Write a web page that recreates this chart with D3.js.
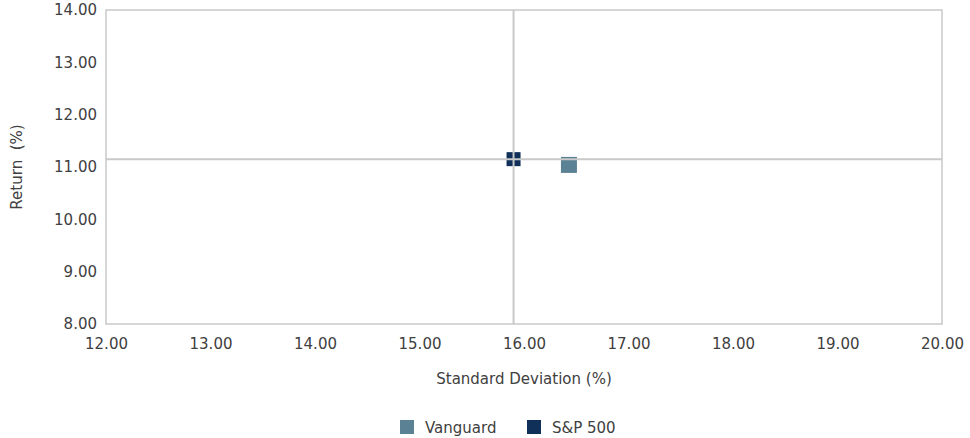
<!DOCTYPE html>
<html>
<head>
<meta charset="utf-8">
<script src="https://cdn.jsdelivr.net/npm/d3@7"></script>
<style>
  body { margin: 0; background: #fff; }
  text { font-family: "DejaVu Sans", sans-serif; fill: #404040; }
</style>
</head>
<body>
<div id="chart-area"></div>
<script>
// data
var seriesNames = ["Vanguard", "S&P 500"];
var stdDev = [16.43, 15.90];
var returns = [11.04, 11.15];
var colors = ["#5b8194", "#10305a"];
var xTicks = [12, 13, 14, 15, 16, 17, 18, 19, 20];
var yTicks = [8, 9, 10, 11, 12, 13, 14];

var margin = { left: 106, right: 28, top: 10, bottom: 114 };
var width = 970 - margin.left - margin.right;
var height = 438 - margin.top - margin.bottom;

var svg = d3.select("#chart-area").append("svg")
  .attr("width", 970)
  .attr("height", 438);

var g = svg.append("g")
  .attr("transform", "translate(" + margin.left + "," + margin.top + ")");

var x = d3.scaleLinear().domain([12, 20]).range([0, width]);
var y = d3.scaleLinear().domain([8, 14]).range([height, 0]);

// plot frame
g.append("rect")
  .attr("x", 0).attr("y", 0)
  .attr("width", width).attr("height", height)
  .attr("fill", "none")
  .attr("stroke", "#c9c9c9")
  .attr("stroke-width", 1.5);

// X Axis
var xAxisCall = d3.axisBottom(x)
  .tickValues(xTicks)
  .tickSize(0)
  .tickPadding(14)
  .tickFormat(d3.format(".2f"));
var xAxis = g.append("g")
  .attr("transform", "translate(0," + height + ")")
  .call(xAxisCall);
xAxis.select(".domain").remove();
xAxis.selectAll("text")
  .attr("font-size", "15px")
  .style("font-family", "DejaVu Sans")
  .style("fill", "#404040");

// Y Axis
var yAxisCall = d3.axisLeft(y)
  .tickValues(yTicks)
  .tickSize(0)
  .tickPadding(9)
  .tickFormat(d3.format(".2f"));
var yAxis = g.append("g").call(yAxisCall);
yAxis.select(".domain").remove();
yAxis.selectAll("text")
  .attr("font-size", "15px")
  .style("font-family", "DejaVu Sans")
  .style("fill", "#404040");

// markers
var sizes = [16, 14];
g.selectAll("rect.pt")
  .data(seriesNames)
  .enter()
  .append("rect")
  .attr("class", "pt")
  .attr("x", function(d, i) { return x(stdDev[i]) - sizes[i] / 2; })
  .attr("y", function(d, i) { return y(returns[i]) - sizes[i] / 2; })
  .attr("width", function(d, i) { return sizes[i]; })
  .attr("height", function(d, i) { return sizes[i]; })
  .attr("fill", function(d, i) { return colors[i]; });

// crosshair through the S&P 500 point
g.append("line")
  .attr("x1", x(stdDev[1])).attr("x2", x(stdDev[1]))
  .attr("y1", 0).attr("y2", height)
  .attr("stroke", "#c9c9c9").attr("stroke-width", 2);
g.append("line")
  .attr("x1", 0).attr("x2", width)
  .attr("y1", y(returns[1])).attr("y2", y(returns[1]))
  .attr("stroke", "#c9c9c9").attr("stroke-width", 2);

// X Label
g.append("text")
  .attr("x", width / 2)
  .attr("y", height + 60)
  .attr("font-size", "15px")
  .attr("text-anchor", "middle")
  .text("Standard Deviation (%)");

// Y Label
g.append("text")
  .attr("x", -(height / 2))
  .attr("y", -84)
  .attr("font-size", "15px")
  .attr("text-anchor", "middle")
  .attr("transform", "rotate(-90)")
  .style("white-space", "pre")
  .text("Return  (%)");

// legend
var legendX = [400, 527];
var legend = svg.selectAll("g.legend")
  .data(seriesNames)
  .enter()
  .append("g")
  .attr("class", "legend")
  .attr("transform", function(d, i) { return "translate(" + legendX[i] + ",420)"; });
legend.append("rect")
  .attr("width", 14).attr("height", 14)
  .attr("fill", function(d, i) { return colors[i]; });
legend.append("text")
  .attr("x", 25).attr("y", 13)
  .attr("font-size", "15px")
  .text(function(d) { return d; });
</script>
</body>
</html>
